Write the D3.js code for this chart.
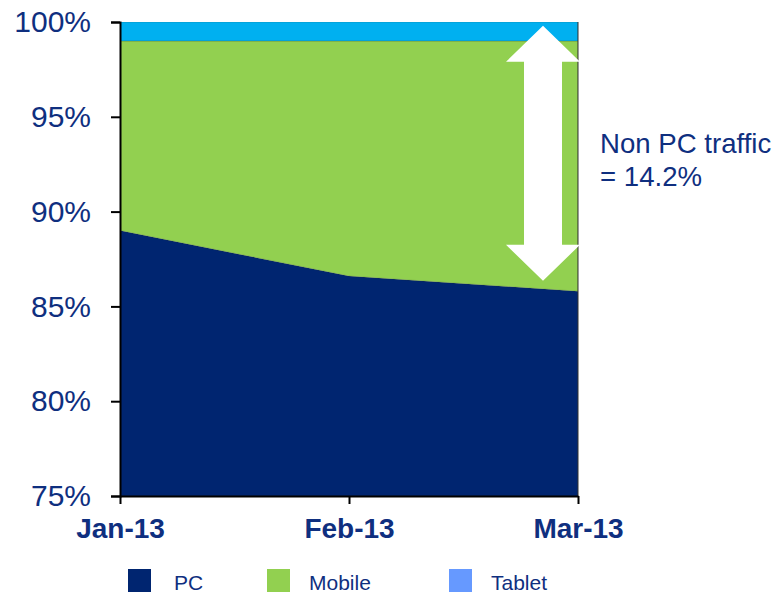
<!DOCTYPE html>
<html>
<head>
<meta charset="utf-8">
<script src="https://cdn.jsdelivr.net/npm/d3@7"></script>
<style>
  html, body { margin: 0; padding: 0; background: #fff; }
  svg { display: block; font-family: Arial, "Liberation Sans", sans-serif; }
</style>
</head>
<body>
<svg id="chart" width="779" height="594"></svg>
<script>
// Monthly share of traffic by device (percent of total)
const months = ["Jan-13", "Feb-13", "Mar-13"];
const pcShare = [89.0, 86.6, 85.8];
const mobileShare = [10.0, 12.4, 13.2];
const tabletShare = [1.0, 1.0, 1.0];
const yTicks = [75, 80, 85, 90, 95, 100];
const seriesNames = ["PC", "Mobile", "Tablet"];
const nonPcLabel = ["Non PC traffic", "= 14.2%"];

const areaColors = { PC: "#002570", Mobile: "#92D050", Tablet: "#00B0F0" };
const legendColors = { PC: "#002570", Mobile: "#92D050", Tablet: "#6699FF" };
const textColor = "#0f2f7f";

const svg = d3.select("#chart");
const margin = { left: 120, right: 201, top: 22, bottom: 98 };
const W = 779, H = 594;

const x = d3.scalePoint().domain(months).range([margin.left, W - margin.right]);
const y = d3.scaleLinear().domain([75, 100]).range([H - margin.bottom, margin.top]);

// Build stacked rows
const rows = months.map((m, i) => ({ month: m, PC: pcShare[i], Mobile: mobileShare[i], Tablet: tabletShare[i] }));
const stack = d3.stack().keys(seriesNames);
const layers = stack(rows);

const clipId = "plotClip";
svg.append("clipPath").attr("id", clipId)
  .append("rect")
  .attr("x", x.range()[0]).attr("y", y(100))
  .attr("width", x.range()[1] - x.range()[0]).attr("height", y(75) - y(100));

const area = d3.area()
  .x(d => x(d.data.month))
  .y0(d => y(Math.max(75, d[0])))
  .y1(d => y(Math.max(75, d[1])));

svg.append("g").attr("clip-path", `url(#${clipId})`)
  .selectAll("path").data(layers).join("path")
  .attr("d", area)
  .attr("fill", d => areaColors[d.key])
  .attr("stroke", "#2a3a2a")
  .attr("stroke-opacity", 0.35)
  .attr("stroke-width", 0.6);

// Right edge of the plot
svg.append("line")
  .attr("x1", x.range()[1]).attr("x2", x.range()[1])
  .attr("y1", y(100)).attr("y2", y(75))
  .attr("stroke", "#333").attr("stroke-width", 1);

// Axes
const yAxis = d3.axisLeft(y).tickValues(yTicks).tickSize(9).tickFormat(d => d + "%");
const gy = svg.append("g").attr("transform", `translate(${margin.left},0)`).call(yAxis);
gy.select(".domain").attr("stroke", "#000").attr("stroke-width", 2);
gy.selectAll(".tick line").attr("stroke", "#000").attr("stroke-width", 2);
gy.selectAll(".tick text")
  .attr("x", -29)
  .attr("fill", textColor)
  .attr("font-size", 30)
  .attr("font-family", "Arial, 'Liberation Sans', sans-serif");

const xAxis = d3.axisBottom(x).tickSize(8).tickSizeOuter(0);
const gx = svg.append("g").attr("transform", `translate(0,${y(75)})`).call(xAxis);
gx.select(".domain").attr("stroke", "#000").attr("stroke-width", 2);
gx.selectAll(".tick line").attr("stroke", "#000").attr("stroke-width", 2);
gx.selectAll(".tick text")
  .attr("y", 22)
  .attr("dy", "0.71em")
  .attr("fill", textColor)
  .attr("font-size", 28)
  .attr("font-weight", "bold")
  .attr("font-family", "Arial, 'Liberation Sans', sans-serif");

// Double-headed arrow spanning the non-PC share
const arrowX = x(months[2]) - 35;
const arrowTop = y(99.8), arrowBottom = y(86.35);
const headH = 36, headW = 37, shaftW = 19;
const arrowPts = [
  [arrowX, arrowTop], [arrowX + headW, arrowTop + headH], [arrowX + shaftW, arrowTop + headH],
  [arrowX + shaftW, arrowBottom - headH], [arrowX + headW, arrowBottom - headH], [arrowX, arrowBottom],
  [arrowX - headW, arrowBottom - headH], [arrowX - shaftW, arrowBottom - headH],
  [arrowX - shaftW, arrowTop + headH], [arrowX - headW, arrowTop + headH]
];
svg.append("polygon")
  .attr("points", arrowPts.map(p => p.join(",")).join(" "))
  .attr("fill", "#fff");

// Annotation text
svg.append("text")
  .attr("x", 600).attr("y", 153)
  .attr("fill", textColor).attr("font-size", 27.6)
  .selectAll("tspan").data(nonPcLabel).join("tspan")
  .attr("x", 600)
  .attr("dy", (d, i) => i === 0 ? 0 : 33)
  .text(d => d);

// Legend
const legendX = [128, 267, 449];
const lg = svg.append("g").selectAll("g").data(seriesNames).join("g")
  .attr("transform", (d, i) => `translate(${legendX[i]},569)`);
lg.append("rect").attr("width", 23).attr("height", 23).attr("fill", d => legendColors[d]);
lg.append("text")
  .attr("x", (d, i) => i === 0 ? 46 : 42).attr("y", 21)
  .attr("fill", textColor).attr("font-size", 21)
  .text(d => d);
</script>
</body>
</html>
